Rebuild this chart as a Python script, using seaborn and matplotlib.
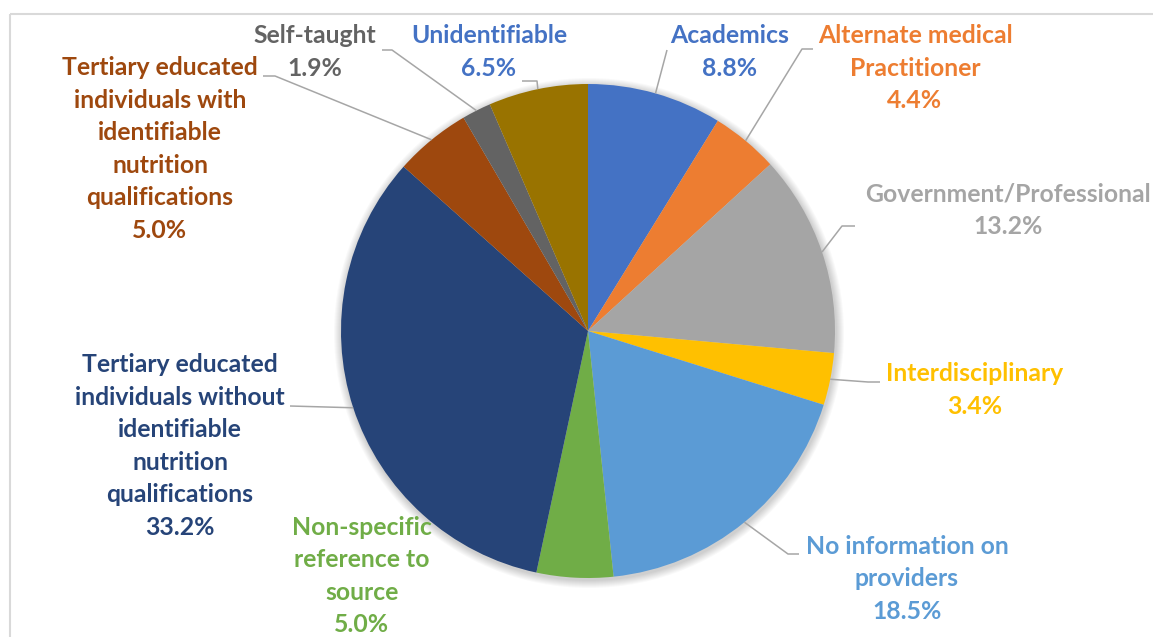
import numpy as np
import matplotlib
matplotlib.use("Agg")
import matplotlib.pyplot as plt
import seaborn as sns
from matplotlib.patches import Circle, Rectangle

sns.set_theme(style="white")
plt.rcParams['font.family'] = ['Lato', 'DejaVu Sans']

# ---- data ----
categories = [
    "Academics",
    "Alternate medical\nPractitioner",
    "Government/Professional",
    "Interdisciplinary",
    "No information on\nproviders",
    "Non-specific\nreference to\nsource",
    "Tertiary educated\nindividuals without\nidentifiable\nnutrition\nqualifications",
    "Tertiary educated\nindividuals with\nidentifiable\nnutrition\nqualifications",
    "Self-taught",
    "Unidentifiable",
]
values = [8.8, 4.4, 13.2, 3.4, 18.5, 5.0, 33.2, 5.0, 1.9, 6.5]
pct_labels = ["8.8%", "4.4%", "13.2%", "3.4%", "18.5%", "5.0%", "33.2%", "5.0%", "1.9%", "6.5%"]
colors = ["#4472C4", "#ED7D31", "#A5A5A5", "#FFC000", "#5B9BD5",
          "#70AD47", "#264478", "#9E480E", "#636363", "#997300"]
label_colors = ["#4472C4", "#ED7D31", "#A5A5A5", "#FFC000", "#5B9BD5",
                "#70AD47", "#264478", "#9E480E", "#636363", "#4472C4"]

# ---- layout (pixel coordinates) ----
W, H = 1153, 637
center = (588, 331)
radius = 247
label_pos = [(730, 52), (915, 68), (1008, 210), (975, 390), (907, 579),
             (362, 576), (180, 446), (160, 149), (315, 52), (489, 52)]
leader_pts = [
    [(667, 50)],
    [(802, 49), (813, 49)],
    [(842, 226), (855, 226)],
    [(868, 382), (880, 382)],
    [(788, 554), (799, 554)],
    None,
    [(290, 406)],
    [(275, 76), (263, 76)],
    [(392, 50), (382, 50)],
    [(537, 81), (522, 81)],
]

fig = plt.figure(figsize=(W / 100, H / 100), dpi=100)
ax = fig.add_axes([0, 0, 1, 1])

# chart border
ax.add_patch(Rectangle((10, 14), W + 20, H + 20, fill=False,
                       edgecolor="#D9D9D9", linewidth=1.5, zorder=0))

# soft shadow
for k in range(1, 9):
    ax.add_patch(Circle((center[0] + 1, center[1] + 2), radius + k,
                        facecolor="black", edgecolor="none",
                        alpha=0.025, zorder=1))

# y axis inverted -> start at -90 and counterclock=True gives clockwise from top
wedges, _ = ax.pie(values, colors=colors, startangle=-90, counterclock=True,
                   center=center, radius=radius,
                   wedgeprops=dict(linewidth=0, zorder=2))
for w in wedges:
    w.set_zorder(2)

ax.set_xlim(0, W)
ax.set_ylim(H, 0)
ax.set_aspect('equal')
ax.axis('off')

total = sum(values)
cum = np.cumsum([0] + values)
for i, (cat, pct) in enumerate(zip(categories, pct_labels)):
    mid = (cum[i] + values[i] / 2) / total * 2 * np.pi
    sx = center[0] + radius * np.sin(mid)
    sy = center[1] - radius * np.cos(mid)
    if leader_pts[i] is not None:
        xs = [sx] + [p[0] for p in leader_pts[i]]
        ys = [sy] + [p[1] for p in leader_pts[i]]
        ax.plot(xs, ys, color="#A6A6A6", linewidth=1.1, zorder=3,
                solid_capstyle='butt')
    lx, ly = label_pos[i]
    ax.text(lx, ly, f"{cat}\n{pct}", ha="center", va="center",
            color=label_colors[i], fontsize=17.8, fontweight="bold",
            linespacing=1.5, zorder=4)

fig.savefig("out.png", dpi=100)
